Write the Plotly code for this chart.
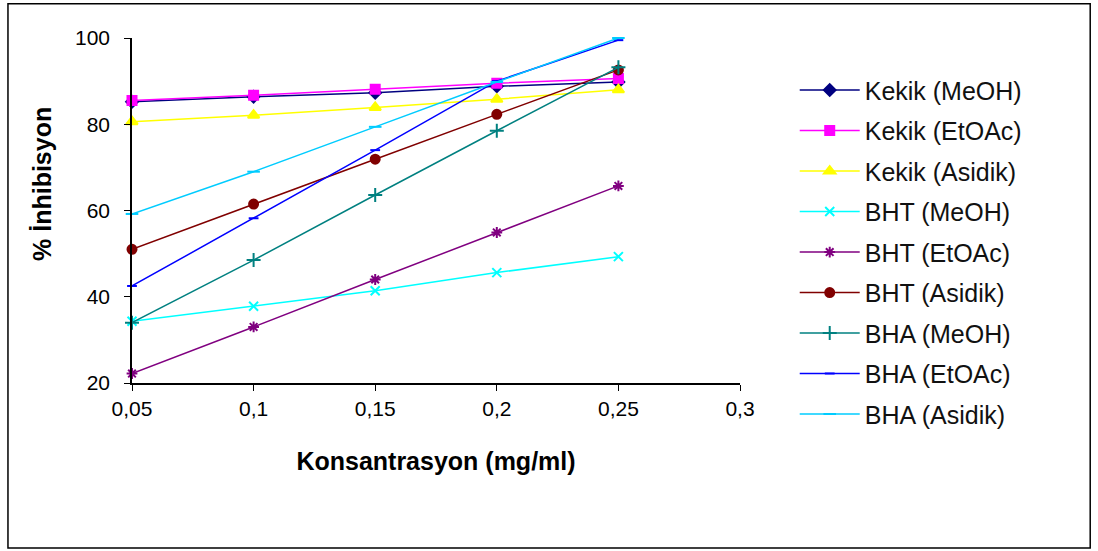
import plotly.graph_objects as go

x_vals = [0.05, 0.1, 0.15, 0.2, 0.25]

kekik_meoh = [85.2, 86.4, 87.3, 88.8, 89.8]
kekik_etoac = [85.5, 86.7, 88.1, 89.5, 90.6]
kekik_asidik = [80.6, 82.1, 83.9, 85.8, 88.0]
bht_meoh = [34.3, 37.8, 41.4, 45.6, 49.3]
bht_etoac = [22.2, 33.0, 44.0, 54.9, 65.7]
bht_asidik = [51.0, 61.5, 71.9, 82.3, 92.6]
bha_meoh = [34.0, 48.5, 63.6, 78.5, 93.2]
bha_etoac = [42.5, 58.2, 74.0, 90.0, 99.5]
bha_asidik = [59.2, 69.0, 79.4, 89.8, 100.0]

series_names = ["Kekik (MeOH)", "Kekik (EtOAc)", "Kekik (Asidik)",
                "BHT (MeOH)", "BHT (EtOAc)", "BHT (Asidik)",
                "BHA (MeOH)", "BHA (EtOAc)", "BHA (Asidik)"]
series_values = [kekik_meoh, kekik_etoac, kekik_asidik,
                 bht_meoh, bht_etoac, bht_asidik,
                 bha_meoh, bha_etoac, bha_asidik]

x_tick_vals = [0.05, 0.1, 0.15, 0.2, 0.25, 0.3]
x_tick_text = ["0,05", "0,1", "0,15", "0,2", "0,25", "0,3"]
y_tick_vals = [20, 40, 60, 80, 100]

styles = [
    dict(color="#000080", symbol="diamond", size=9),
    dict(color="#FF00FF", symbol="square", size=9),
    dict(color="#FFFF00", symbol="triangle-up", size=10),
    dict(color="#00FFFF", symbol="x-thin", size=9),
    dict(color="#800080", symbol="asterisk", size=9),
    dict(color="#800000", symbol="circle", size=9),
    dict(color="#008080", symbol="cross-thin", size=10),
    dict(color="#0000FF", symbol="line-ew", size=7),
    dict(color="#00CCFF", symbol="line-ew", size=9),
]

fig = go.Figure()
for i, (name, vals) in enumerate(zip(series_names, series_values)):
    st = styles[i]
    fig.add_trace(go.Scatter(
        x=x_vals, y=vals, name=name, mode="lines+markers",
        legendgroup=f"g{i}",
        line=dict(color=st["color"], width=1.5),
        marker=dict(symbol=st["symbol"], size=st["size"], color=st["color"],
                    line=dict(color=st["color"], width=2)),
        cliponaxis=False,
    ))

font_family = "Liberation Sans, Arial, sans-serif"

fig.update_layout(
    width=1098, height=551,
    margin=dict(l=132, r=358, t=38, b=168),
    paper_bgcolor="white", plot_bgcolor="white",
    font=dict(family=font_family, size=21, color="black"),
    showlegend=True,
    legend=dict(x=1.09, y=0.915, xanchor="left", yanchor="top",
                font=dict(size=25, family=font_family, color="#111111"),
                tracegroupgap=5, maxheight=520, itemwidth=60,
                bgcolor="rgba(0,0,0,0)"),
    xaxis=dict(range=[0.05, 0.3], tickvals=x_tick_vals, ticktext=x_tick_text,
               showgrid=False, zeroline=False, showline=True, linecolor="black",
               linewidth=1.5, ticks="outside", ticklen=6, tickcolor="black",
               tickfont=dict(size=21),
               title=dict(text="<b>Konsantrasyon (mg/ml)</b>", standoff=34,
                          font=dict(size=25))),
    yaxis=dict(range=[20, 100], tickvals=y_tick_vals,
               showgrid=False, zeroline=False, showline=True, linecolor="black",
               linewidth=1.5, ticks="outside", ticklen=6, tickcolor="black",
               tickfont=dict(size=21), ticklabelstandoff=10),
    annotations=[dict(text="<b>% İnhibisyon</b>", textangle=-90,
                      xref="paper", yref="paper", x=-0.148, y=0.577,
                      xanchor="center", yanchor="middle", showarrow=False,
                      font=dict(size=25, family=font_family))],
)

fig.add_shape(type="rect", xref="paper", yref="paper",
              x0=-0.204, x1=1.576, y0=-0.478, y1=1.099,
              line=dict(color="black", width=1.5), fillcolor="rgba(0,0,0,0)",
              layer="below")

fig.write_html("out.html")
